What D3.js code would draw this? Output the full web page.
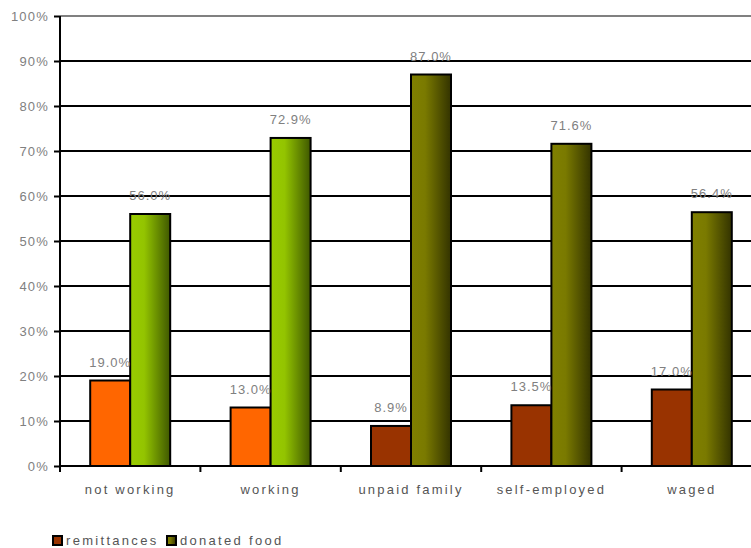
<!DOCTYPE html>
<html><head><meta charset="utf-8">
<script src="https://cdn.jsdelivr.net/npm/d3@7"></script>
<style>body{margin:0;background:#fff;} svg{display:block;font-family:"Liberation Sans",Arial,sans-serif;}</style>
</head><body>
<svg id="c" width="751" height="548"></svg>
<script>
const categories = ["not working","working","unpaid family","self-employed","waged"];
const seriesNames = ["remittances","donated food"];
const remittances = [19.0,13.0,8.9,13.5,17.0];
const donatedFood = [56.0,72.9,87.0,71.6,56.4];
const yTicks = [0,10,20,30,40,50,60,70,80,90,100];

(function(){
const svg = d3.select("#c");
const mLeft = 60, mTop = 16, mBottom = 466, mRight = 762;
const x = d3.scaleBand().domain(categories).range([mLeft, mRight]);
const y = d3.scaleLinear().domain([0,100]).range([mBottom, mTop]);
const inner = d3.scaleBand().domain(seriesNames).range([-40, 40]);

const defs = svg.append("defs");
function grad(id, stops){
  const g = defs.append("linearGradient").attr("id",id).attr("x1","0").attr("x2","1").attr("y1","0").attr("y2","0");
  stops.forEach(s=>g.append("stop").attr("offset",s[0]).attr("stop-color",s[1]));
}
grad("gGreen",[[0,"#99cc00"],[0.35,"#93c400"],[1,"#3f5800"]]);
grad("gOlive",[[0,"#808000"],[0.35,"#7a7a00"],[1,"#333300"]]);

// gridlines
svg.append("g").selectAll("line").data(yTicks.filter(d=>d>0)).join("line")
  .attr("x1",mLeft).attr("x2",751).attr("y1",d=>y(d)).attr("y2",d=>y(d))
  .attr("stroke",d=>d===100?"#808080":"#000").attr("stroke-width",2);

// y axis
const ya = svg.append("g").attr("transform",`translate(${mLeft},0)`)
  .call(d3.axisLeft(y).tickValues(yTicks).tickFormat(d=>d+"%").tickSize(6).tickPadding(5));
ya.select(".domain").attr("stroke","#000").attr("stroke-width",2).attr("d",`M0,${mTop}V${mBottom+2}`);
ya.selectAll(".tick line").attr("stroke","#000").attr("stroke-width",2);
ya.selectAll(".tick text").attr("fill","#808080").attr("font-size",13).attr("letter-spacing",1.2)
  .attr("font-family","'Liberation Sans',Arial,sans-serif");

// x axis
const xa = svg.append("g").attr("transform",`translate(0,${mBottom})`)
  .call(d3.axisBottom(x).tickSize(0).tickPadding(19));
xa.select(".domain").remove();
xa.selectAll(".tick text").attr("fill","#555").attr("font-size",13).attr("letter-spacing",2.2)
  .attr("font-family","'Liberation Sans',Arial,sans-serif");
svg.append("line").attr("x1",mLeft).attr("x2",751).attr("y1",mBottom).attr("y2",mBottom).attr("stroke","#000").attr("stroke-width",2);
svg.append("g").selectAll("line").data(d3.range(categories.length)).join("line")
  .attr("x1",i=>mLeft+i*x.bandwidth()).attr("x2",i=>mLeft+i*x.bandwidth())
  .attr("y1",mBottom).attr("y2",mBottom+6).attr("stroke","#000").attr("stroke-width",2);

// bars
const data = categories.map((c,i)=>({c,i,vals:[remittances[i],donatedFood[i]]}));
const colors = (i,s)=> i<2 ? (s===0?"#ff6600":"url(#gGreen)") : (s===0?"#993300":"url(#gOlive)");
const grp = svg.append("g").selectAll("g").data(data).join("g")
  .attr("transform",d=>`translate(${x(d.c)+x.bandwidth()/2},0)`);
grp.selectAll("rect").data(d=>d.vals.map((v,s)=>({v,s,i:d.i}))).join("rect")
  .attr("x",d=>inner(seriesNames[d.s])).attr("width",inner.bandwidth())
  .attr("y",d=>y(d.v)).attr("height",d=>mBottom-y(d.v))
  .attr("fill",d=>colors(d.i,d.s)).attr("stroke","#000").attr("stroke-width",2);
grp.selectAll("text").data(d=>d.vals.map((v,s)=>({v,s}))).join("text")
  .attr("x",d=>inner(seriesNames[d.s])+inner.bandwidth()/2).attr("y",d=>y(d.v)-14)
  .attr("text-anchor","middle").attr("fill","#808080").attr("font-size",13).attr("letter-spacing",1)
  .text(d=>d.v.toFixed(1)+"%");

// legend
const lg = svg.append("g").attr("transform","translate(52,535)");
const items = [{n:"remittances",f:"#993300",x:0},{n:"donated food",f:"url(#gOlive)",x:114}];
items.forEach(it=>{
  lg.append("rect").attr("x",it.x+1).attr("y",1).attr("width",9).attr("height",9).attr("fill",it.f).attr("stroke","#000").attr("stroke-width",2);
  lg.append("text").attr("x",it.x+14).attr("y",10).attr("fill","#555").attr("font-size",13).attr("letter-spacing",2.3).text(it.n);
});
})();
</script>
</body></html>
